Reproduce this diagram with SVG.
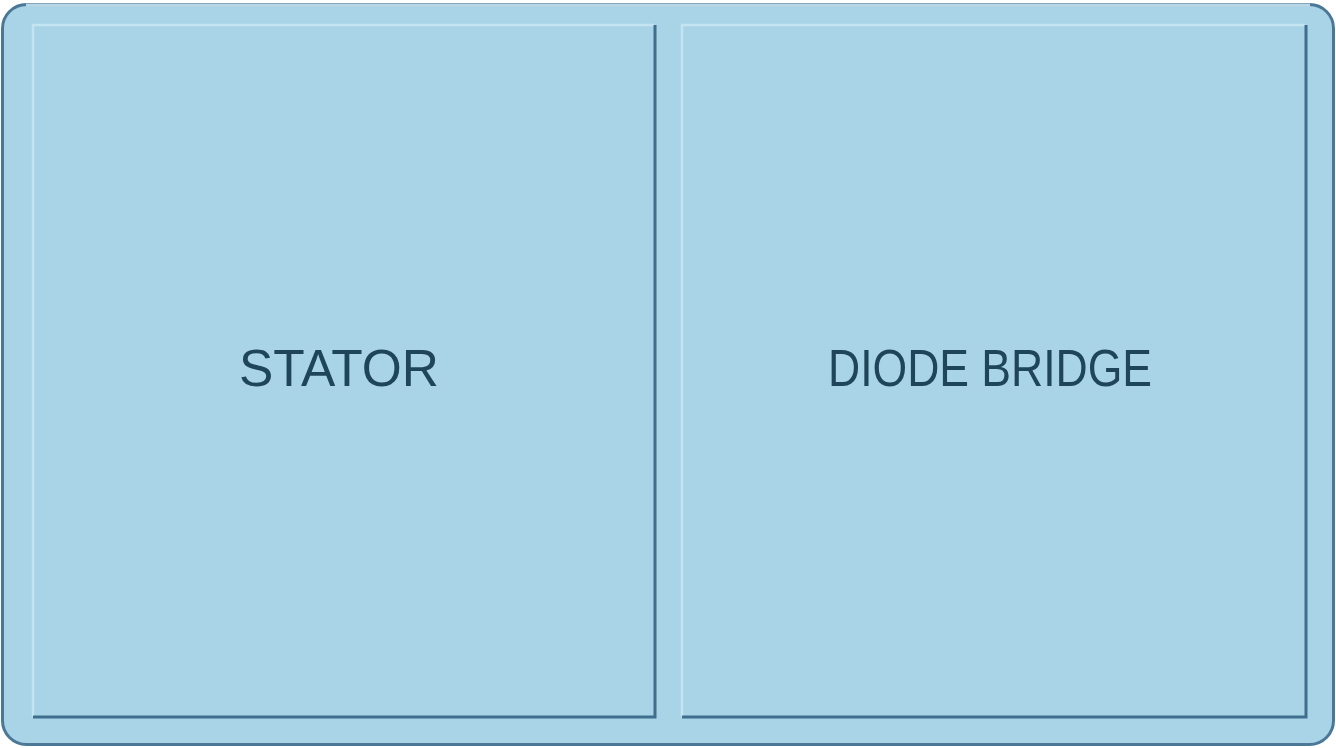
<svg xmlns="http://www.w3.org/2000/svg" width="1336" height="748" viewBox="0 0 1336 748">
<style>
.lbl{font-family:"Liberation Sans","DejaVu Sans",sans-serif;font-size:52px;fill:#1f4558;}
.hi{stroke:#c4e4f2;stroke-width:2.5;fill:none;}
.lo{stroke:#3f6f8c;stroke-width:3;fill:none;}
</style>
<rect x="0" y="0" width="1336" height="748" fill="#ffffff"/>
<rect id="frame" x="2.5" y="4.5" width="1331" height="740" rx="24" ry="24" fill="#a9d3e7" stroke="#4b7896" stroke-width="3"/>
<path d="M26 5 H1310" stroke="#b9d6e4" stroke-width="3" fill="none"/>
<g id="stator">
<rect x="32" y="24" width="623" height="694" fill="#a9d3e7"/>
<path class="hi" d="M33 717 V25 H654"/>
<path class="lo" d="M655 25 V717 H33"/>
<text class="lbl" x="239" y="386" textLength="200" lengthAdjust="spacingAndGlyphs">STATOR</text>
</g>
<g id="diode-bridge">
<rect x="681" y="24" width="625" height="694" fill="#a9d3e7"/>
<path class="hi" d="M682 717 V25 H1305"/>
<path class="lo" d="M1306 25 V717 H682"/>
<text class="lbl" x="828" y="386" textLength="324" lengthAdjust="spacingAndGlyphs">DIODE BRIDGE</text>
</g>
<g id="connectors"></g>
</svg>
